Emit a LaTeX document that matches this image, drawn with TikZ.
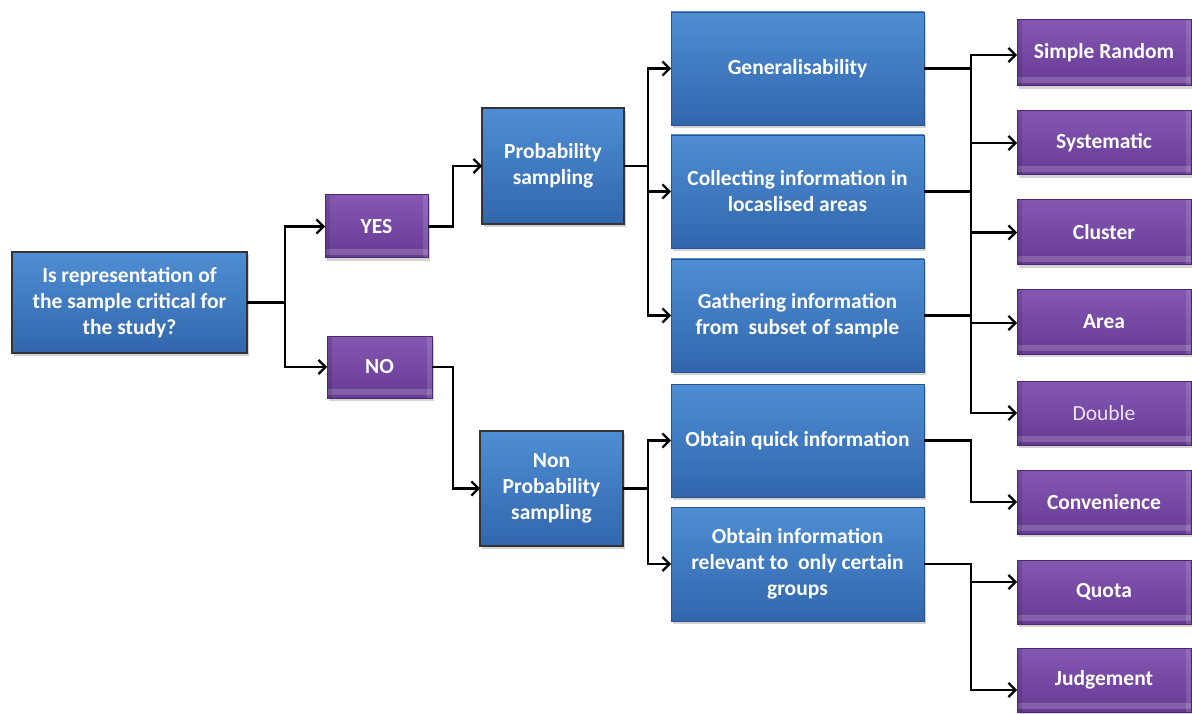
\documentclass[tikz,border=0pt]{standalone}
\usepackage{fontspec}
\setmainfont{Carlito}
\usetikzlibrary{arrows.meta,shadows}

\definecolor{blueTop}{HTML}{4F8ED4}
\definecolor{blueBot}{HTML}{3166AC}
\definecolor{blueEdge}{HTML}{2A5488}
\definecolor{purTop}{HTML}{8457B3}
\definecolor{purBot}{HTML}{673B94}
\definecolor{purEdge}{HTML}{4A2A6E}
\definecolor{softText}{HTML}{EDE4F5}

\tikzset{
  boxbase/.style={rectangle, inner sep=2pt, outer sep=0pt, align=center,
    text=white, font=\bfseries\fontsize{21.5}{26}\selectfont,
    drop shadow={opacity=0.35, shadow xshift=2pt, shadow yshift=-3pt}},
  bluebox/.style={boxbase, top color=blueTop, bottom color=blueBot,
    draw=blueEdge, line width=0.8pt},
  darkbluebox/.style={bluebox, draw=black!80, line width=1.2pt},
  purplebox/.style={boxbase, top color=purTop, bottom color=purBot,
    draw=purEdge, line width=1pt,
    path picture={
      \fill[white, opacity=0.18]
        ([yshift=3pt]path picture bounding box.south west) rectangle
        ([yshift=9pt]path picture bounding box.south east);
      \fill[black, opacity=0.12]
        (path picture bounding box.south west) rectangle
        ([xshift=5pt]path picture bounding box.north west);
      \fill[white, opacity=0.12]
        ([xshift=-5pt]path picture bounding box.south east) rectangle
        (path picture bounding box.north east);
    }},
  wire/.style={draw=black, line width=2.6pt, line join=miter},
  arr/.style={wire, -{Straight Barb[length=7pt, width=14pt, line width=2.2pt]}},
}

\begin{document}
\begin{tikzpicture}[x=1pt, y=-1pt]
\useasboundingbox (0,0) rectangle (1192,714);

% question and answers
\node[darkbluebox, minimum width=235pt, minimum height=101pt] (q) at (129.5,302.5)
  {Is representation of\\the sample critical for\\the study?};
\node[purplebox, minimum width=103pt, minimum height=63pt] (yes) at (376.5,226.5) {YES};
\node[purplebox, minimum width=105pt, minimum height=62pt] (no) at (379.5,367) {NO};

% sampling families
\node[darkbluebox, minimum width=142pt, minimum height=116pt] (prob) at (553,166)
  {Probability\\sampling};
\node[darkbluebox, minimum width=143pt, minimum height=115pt] (nonprob) at (551.5,488.5)
  {Non\\Probability\\sampling};

% purposes
\node[bluebox, minimum width=253pt, minimum height=113pt] (gen) at (797.5,68.5) {Generalisability};
\node[bluebox, minimum width=253pt, minimum height=113pt] (coll) at (797.5,191.5)
  {Collecting information in\\locaslised areas};
\node[bluebox, minimum width=253pt, minimum height=113pt] (gath) at (797.5,315.5)
  {Gathering information\\from\ \ subset of sample};
\node[bluebox, minimum width=253pt, minimum height=113pt] (quick) at (797.5,440.5)
  {Obtain quick information};
\node[bluebox, minimum width=253pt, minimum height=114pt] (rel) at (797.5,564)
  {Obtain information\\relevant to\ \ only certain\\groups};

% sampling methods
\node[purplebox, minimum width=174pt, minimum height=66pt] (sr) at (1104,53) {Simple Random};
\node[purplebox, minimum width=174pt, minimum height=64pt] (sys) at (1104,143) {Systematic};
\node[purplebox, minimum width=174pt, minimum height=65pt] (clu) at (1104,232.5) {Cluster};
\node[purplebox, minimum width=174pt, minimum height=64pt] (area) at (1104,322) {Area};
\node[purplebox, minimum width=174pt, minimum height=64pt, font=\fontsize{21.5}{26}\selectfont,
  text=softText] (dbl) at (1104,413) {Double};
\node[purplebox, minimum width=174pt, minimum height=64pt] (conv) at (1104,502) {Convenience};
\node[purplebox, minimum width=174pt, minimum height=64pt] (quota) at (1104,592) {Quota};
\node[purplebox, minimum width=174pt, minimum height=64pt] (judg) at (1104,680) {Judgement};

% vertical bus lines
\coordinate (b1) at (285,0);
\coordinate (b2) at (453,0);
\coordinate (b3) at (648,0);
\coordinate (b4) at (971,0);

% question -> yes / no
\draw[arr] (q.east) -- (q.east -| b1) |- (yes.west);
\draw[arr] (q.east) -- (q.east -| b1) |- (no.west);

% yes / no -> families
\draw[arr] (yes.east) -- (yes.east -| b2) |- (prob.west);
\draw[arr] (no.east) -- (no.east -| b2) |- (nonprob.west);

% families -> purposes
\draw[arr] (prob.east) -- (prob.east -| b3) |- (gen.west);
\draw[arr] (prob.east) -- (prob.east -| b3) |- (coll.west);
\draw[arr] (prob.east) -- (prob.east -| b3) |- (gath.west);
\draw[arr] (nonprob.east) -- (nonprob.east -| b3) |- (quick.west);
\draw[arr] (nonprob.east) -- (nonprob.east -| b3) |- (rel.west);

% probability purposes -> methods
\draw[wire] (coll.east) -- (coll.east -| b4);
\draw[wire] (gath.east) -- (gath.east -| b4);
\draw[arr] (gen.east) -- (gen.east -| b4) |- ([yshift=-2pt]sr.west);
\draw[arr] (gen.east) -- (gen.east -| b4) |- (sys.west);
\draw[arr] (gen.east) -- (gen.east -| b4) |- (clu.west);
\draw[arr] (gen.east) -- (gen.east -| b4) |- ([yshift=-1pt]area.west);
\draw[arr] (gen.east) -- (gen.east -| b4) |- (dbl.west);

% non-probability purposes -> methods
\draw[arr] (quick.east) -- (quick.east -| b4) |- (conv.west);
\draw[arr] (rel.east) -- (rel.east -| b4) |- ([yshift=10pt]quota.west);
\draw[arr] (rel.east) -- (rel.east -| b4) |- ([yshift=-10pt]judg.west);
\end{tikzpicture}
\end{document}
